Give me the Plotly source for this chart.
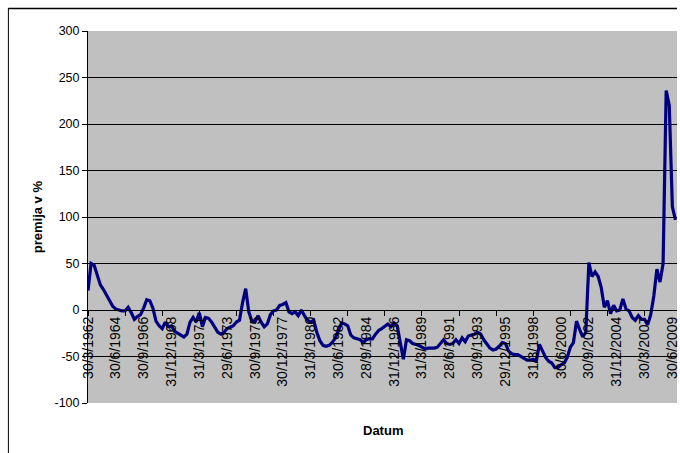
import plotly.graph_objects as go

# Quarterly premium values (%), starting 30/3/1962
premija = [
    21, 50, 48, 36, 27, 22, 16, 11, 4, 1,            # 0-9
    0, -1, -1, 3, -3, -10, -7, -5, 2, 11,            # 10-19
    10, 2, -12, -17, -20, -13, -18, -17, -23, -25,   # 20-29
    -28, -29, -26, -13, -8, -13, -3, -18, -8, -9,    # 30-39
    -13, -19, -24, -26, -24, -20, -18, -17, -13, -11,  # 40-49
    8, 23, -2, -12, -13, -6, -13, -18, -15, -5,      # 50-59
    -1, 0, 5, 6, 8, -2, -4, -2, -6, 0,               # 60-69
    -6, -11, -13, -11, -24, -33, -38, -39, -38, -35,  # 70-79
    -30, -22, -14, -15, -17, -27, -30, -31, -32, -35,  # 80-89
    -32, -31, -31, -26, -22, -20, -17, -15, -18, -14,  # 90-99
    -17, -36, -53, -32, -33, -36, -37, -38, -40, -42,  # 100-109
    -41, -41, -41, -40, -36, -32, -36, -37, -36, -32,  # 110-119
    -36, -30, -34, -28, -27, -26, -24, -26, -32, -37,  # 120-129
    -41, -43, -42, -39, -35, -36, -44, -47, -48, -48,  # 130-139
    -50, -52, -54, -54, -53, -55, -37, -44, -51, -55,  # 140-149
    -57, -62, -62, -59, -57, -51, -40, -35, -12, -21,  # 150-159
    -29, -24, 51, 36, 41, 36, 24, 3, 10, -4,           # 160-169
    5, -1, 0, 12, 1, -1, -8, -11, -6, -10,             # 170-179
    -10, -16, -5, 15, 44, 30, 50, 236, 220, 111,       # 180-189
    97,                                                # 190
]

tick_labels = [
    "30/3/1962", "30/6/1964", "30/9/1966", "31/12/1968", "31/3/1971",
    "29/6/1973", "30/9/1975", "30/12/1977", "31/3/1980", "30/6/1982",
    "28/9/1984", "31/12/1986", "31/3/1989", "28/6/1991", "30/9/1993",
    "29/12/1995", "31/3/1998", "30/6/2000", "30/9/2002", "31/12/2004",
    "30/3/2007", "30/6/2009",
]
y_ticks = [-100, -50, 0, 50, 100, 150, 200, 250, 300]
label_step = 9      # quarters between labels
tickmark_step = 12  # quarters between tick marks

x_idx = list(range(len(premija)))
label_pos = [i * label_step for i in range(len(tick_labels))]
tick_pos = list(range(0, len(premija), tickmark_step))

FONT = "Liberation Sans, Arial, sans-serif"
x_range = [0, 190.5]
y_min, y_max = -100, 300
axis_pos = (0 - y_min) / (y_max - y_min)

fig = go.Figure()
fig.add_trace(go.Scatter(
    x=x_idx, y=premija, mode="lines",
    line=dict(color="#000080", width=3.2),
    hoverinfo="skip", showlegend=False,
))
fig.add_trace(go.Scatter(x=[], y=[], xaxis="x2", showlegend=False))

fig.update_layout(
    width=680, height=453,
    margin=dict(l=88, r=0, t=31, b=50),
    paper_bgcolor="white",
    plot_bgcolor="#C0C0C0",
    font=dict(family=FONT, color="black"),
    xaxis=dict(
        range=x_range, anchor="free", position=axis_pos,
        tickmode="array", tickvals=label_pos, ticktext=tick_labels,
        tickangle=-90, ticks="", tickfont=dict(size=14, family=FONT, color="black"),
        ticklabeloverflow="allow",
        showgrid=False, zeroline=False,
        showline=True, linecolor="black", linewidth=1,
    ),
    xaxis2=dict(
        range=x_range, overlaying="x", anchor="free", position=axis_pos,
        tickmode="array", tickvals=tick_pos, ticks="outside", ticklen=5,
        tickcolor="black", tickwidth=1, showticklabels=False,
        showgrid=False, zeroline=False, showline=False,
    ),
    yaxis=dict(
        range=[y_min, y_max],
        tickmode="array", tickvals=y_ticks, ticktext=[str(v) for v in y_ticks],
        showgrid=True, gridcolor="black", gridwidth=1,
        zeroline=False, showline=True, linecolor="black", linewidth=1,
        ticks="outside", ticklen=5, tickcolor="black",
        tickfont=dict(size=12.5, family=FONT, color="black"),
    ),
    annotations=[
        dict(text="<b>premija v %</b>", xref="paper", yref="paper",
             x=(37 - 88) / 592, y=0.5, textangle=-90, showarrow=False,
             font=dict(size=13, family=FONT, color="black"),
             xanchor="center", yanchor="middle"),
        dict(text="<b>Datum</b>", xref="paper", yref="paper",
             x=0.5, y=(403 - 430) / 372, showarrow=False,
             font=dict(size=13, family=FONT, color="black"),
             xanchor="center", yanchor="middle"),
    ],
    shapes=[
        dict(type="line", xref="paper", yref="paper",
             x0=(8 - 88) / 592, x1=(8 - 88) / 592,
             y0=-0.3, y1=(403 - 8) / 372,
             line=dict(color="black", width=1)),
        dict(type="line", xref="paper", yref="paper",
             x0=(8 - 88) / 592, x1=1.0,
             y0=(403 - 8.5) / 372, y1=(403 - 8.5) / 372,
             line=dict(color="black", width=1.5)),
    ],
)

fig.write_html(
    "out.html",
    config={"displayModeBar": False},
    post_script="document.body.style.margin='0';document.body.style.overflow='hidden';",
)
